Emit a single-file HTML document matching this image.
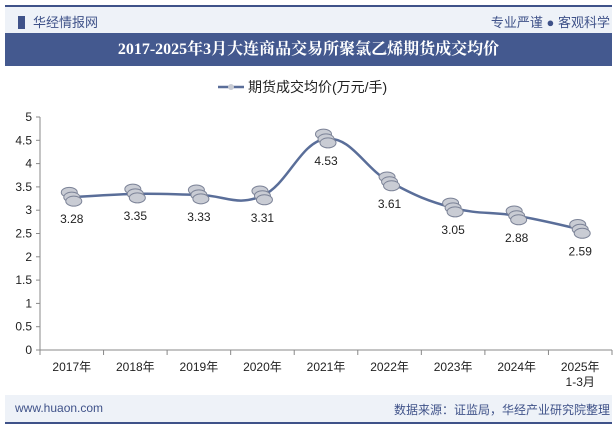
<!DOCTYPE html>
<html><head><meta charset="utf-8"><style>
body{margin:0;width:615px;height:427px;background:#fff;font-family:"Liberation Sans","Noto Sans CJK SC",sans-serif;overflow:hidden;position:relative}
.a{position:absolute}
</style></head><body>
<div class="a" style="left:5px;top:5px;width:607px;height:28px;background:#eef2f8;border-top:2px solid #3f5289;box-sizing:border-box"></div>
<div class="a" style="left:18px;top:12px;font-size:13px;color:#3f5289"><span style="display:inline-block;width:7px;height:13px;background:#3f5289;vertical-align:-2px;margin-right:8px"></span>华经情报网</div>
<div class="a" style="right:5px;top:12px;font-size:13px;color:#3f5289">专业严谨 ● 客观科学</div>
<div class="a" style="left:5px;top:33px;width:607px;height:33px;background:#44598f;color:#fff;font-weight:bold;font-size:16px;line-height:33px;text-align:center;font-family:'Liberation Serif','Noto Serif CJK SC',serif">2017-2025年3月大连商品交易所聚氯乙烯期货成交均价</div>
<div class="a" style="left:5px;top:395px;width:607px;height:29px;background:#eef2f8;border-bottom:2px solid #3f5289;box-sizing:border-box"></div>
<div class="a" style="left:15px;top:401px;font-size:12px;color:#3f5289">www.huaon.com</div>
<div class="a" style="right:5px;top:401px;font-size:12px;color:#3f5289">数据来源：证监局，华经产业研究院整理</div>
<svg class="a" style="left:0;top:0" width="615" height="427" id="chart"></svg>
<script>
const categories=["2017年","2018年","2019年","2020年","2021年","2022年","2023年","2024年","2025年"];
const values=[3.28,3.35,3.33,3.31,4.53,3.61,3.05,2.88,2.59];
const valueLabels=["3.28","3.35","3.33","3.31","4.53","3.61","3.05","2.88","2.59"];
const yTicks=[0,0.5,1,1.5,2,2.5,3,3.5,4,4.5,5];
const yTickLabels=["0","0.5","1","1.5","2","2.5","3","3.5","4","4.5","5"];
const svg=document.getElementById('chart');const NS='http://www.w3.org/2000/svg';
const x0=40,x1=612,y0=350,y1=117;const bw=(x1-x0)/categories.length;
const X=i=>x0+bw*(i+0.5);const Y=v=>y0-(v/5)*(y0-y1);
function mk(t,a,txt){const e=document.createElementNS(NS,t);for(const k in a)e.setAttribute(k,a[k]);if(txt!=null)e.textContent=txt;svg.appendChild(e);return e;}
let e;
e=mk('line',{x1:x0,y1:y0,x2:x1,y2:y0,stroke:'#888'});
e=mk('line',{x1:x0,y1:y1,x2:x0,y2:y0,stroke:'#888'});
yTicks.forEach((v,i)=>{mk('line',{x1:x0-4,y1:Y(v),x2:x0,y2:Y(v),stroke:'#888'});
e=mk('text',{x:x0-8,y:Y(v)+4,'text-anchor':'end','font-size':12,fill:'#222'},yTickLabels[i]);});
categories.forEach((c,i)=>{mk('line',{x1:x0+bw*i,y1:y0,x2:x0+bw*i,y2:y0+5,stroke:'#888'});
e=mk('text',{x:X(i),y:371,'text-anchor':'middle','font-size':12,fill:'#222'},c);});
mk('line',{x1:x1,y1:y0,x2:x1,y2:y0+5,stroke:'#888'});
e=mk('text',{x:X(8),y:386,'text-anchor':'middle','font-size':12,fill:'#222'},'1-3月');
// smooth path
const P=values.map((v,i)=>[X(i),Y(v)]);let d='M'+P[0][0]+','+P[0][1];
for(let i=0;i<P.length-1;i++){const p0=P[Math.max(0,i-1)],p1=P[i],p2=P[i+1],p3=P[Math.min(P.length-1,i+2)];const t=0.2;
d+=' C'+(p1[0]+(p2[0]-p0[0])*t)+','+(p1[1]+(p2[1]-p0[1])*t)+' '+(p2[0]-(p3[0]-p1[0])*t)+','+(p2[1]-(p3[1]-p1[1])*t)+' '+p2[0]+','+p2[1];}
e=mk('path',{d:d,fill:'none',stroke:'#5a6e99','stroke-width':2.5});
P.forEach((p,i)=>{const g=document.createElementNS(NS,'g');svg.appendChild(g);
[[-5,-6],[0,0],[4,5]].forEach(o=>{const el=document.createElementNS(NS,'ellipse');el.setAttribute('cx',p[0]+o[0]*0.5);el.setAttribute('cy',p[1]+o[1]*0.8);el.setAttribute('rx',8);el.setAttribute('ry',5);el.setAttribute('fill','#c9ccd4');el.setAttribute('stroke','#7d8498');g.appendChild(el);});
e=mk('text',{x:p[0],y:p[1]+26,'text-anchor':'middle','font-size':12,fill:'#222'},valueLabels[i]);});
// legend
e=mk('line',{x1:218,y1:87,x2:244,y2:87,stroke:'#5a6e99','stroke-width':2.5});
mk('circle',{cx:231,cy:87,r:3,fill:'#c9ccd4'});
e=mk('text',{x:248,y:92,'font-size':14,fill:'#222'},'期货成交均价(万元/手)');
</script>
</body></html>
